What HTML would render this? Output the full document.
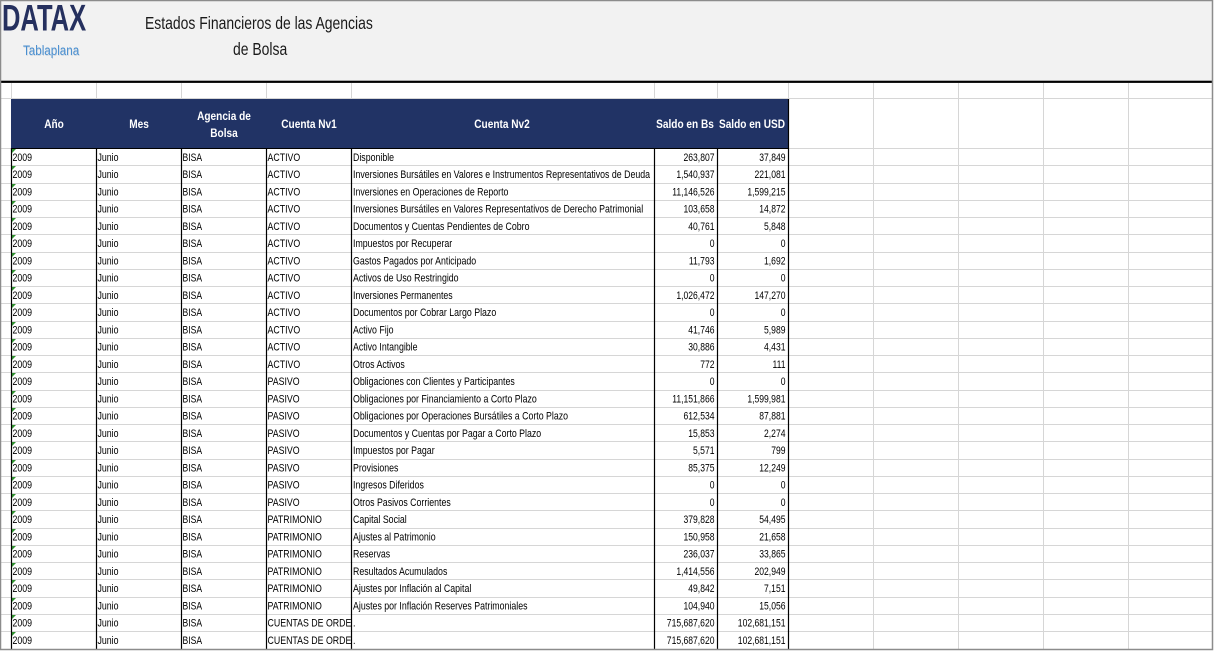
<!DOCTYPE html>
<html>
<head>
<meta charset="utf-8">
<style>
html,body{margin:0;padding:0;background:#fff;}
svg{display:block;}
text{font-family:"Liberation Sans",Arial,sans-serif;}
.d{font-size:11px;fill:#000;}
.h{font-size:12px;font-weight:bold;fill:#fff;}
</style>
</head>
<body>
<svg width="1214" height="651" viewBox="0 0 1214 651" xmlns="http://www.w3.org/2000/svg">
<defs>
<clipPath id="c1"><rect x="267" y="140" width="84" height="520"/></clipPath>
</defs>
<rect x="0" y="0" width="1214" height="651" fill="#fff"/>
<!-- header band -->
<rect x="0" y="0" width="1213" height="81" fill="#f2f2f2"/>
<rect x="0" y="80.7" width="1213" height="2.2" fill="#000"/>

<!-- logo -->
<g transform="translate(2,30.5) scale(0.69,1)"><text x="0" y="0" style="font-size:37px;font-weight:bold;fill:#25305e;">DATAX</text></g>
<g transform="translate(23,55) scale(0.83,1)"><text x="0.6" y="0.8" style="font-size:14px;fill:#b8c8d8;opacity:0.6">Tablaplana</text><text x="0" y="0" style="font-size:14px;fill:#4a8fd0;">Tablaplana</text></g>
<!-- title -->
<g transform="translate(145,29) scale(0.775,1)"><text x="0" y="0" style="font-size:18px;fill:#1a1a1a;">Estados Financieros de las Agencias</text></g>
<g transform="translate(233,55) scale(0.775,1)"><text x="0" y="0" style="font-size:18px;fill:#1a1a1a;">de Bolsa</text></g>

<!-- gridlines horizontal -->
<g stroke="#d6d6d6" stroke-width="1">
<line x1="0" y1="98.5" x2="1212" y2="98.5"/>
<line x1="0" y1="148.5" x2="1212" y2="148.5"/>
<line x1="0" y1="165.5" x2="1212" y2="165.5"/>
<line x1="0" y1="183.5" x2="1212" y2="183.5"/>
<line x1="0" y1="200.5" x2="1212" y2="200.5"/>
<line x1="0" y1="217.5" x2="1212" y2="217.5"/>
<line x1="0" y1="234.5" x2="1212" y2="234.5"/>
<line x1="0" y1="252.5" x2="1212" y2="252.5"/>
<line x1="0" y1="269.5" x2="1212" y2="269.5"/>
<line x1="0" y1="286.5" x2="1212" y2="286.5"/>
<line x1="0" y1="303.5" x2="1212" y2="303.5"/>
<line x1="0" y1="321.5" x2="1212" y2="321.5"/>
<line x1="0" y1="338.5" x2="1212" y2="338.5"/>
<line x1="0" y1="355.5" x2="1212" y2="355.5"/>
<line x1="0" y1="372.5" x2="1212" y2="372.5"/>
<line x1="0" y1="390.5" x2="1212" y2="390.5"/>
<line x1="0" y1="407.5" x2="1212" y2="407.5"/>
<line x1="0" y1="424.5" x2="1212" y2="424.5"/>
<line x1="0" y1="441.5" x2="1212" y2="441.5"/>
<line x1="0" y1="459.5" x2="1212" y2="459.5"/>
<line x1="0" y1="476.5" x2="1212" y2="476.5"/>
<line x1="0" y1="493.5" x2="1212" y2="493.5"/>
<line x1="0" y1="510.5" x2="1212" y2="510.5"/>
<line x1="0" y1="528.5" x2="1212" y2="528.5"/>
<line x1="0" y1="545.5" x2="1212" y2="545.5"/>
<line x1="0" y1="562.5" x2="1212" y2="562.5"/>
<line x1="0" y1="579.5" x2="1212" y2="579.5"/>
<line x1="0" y1="597.5" x2="1212" y2="597.5"/>
<line x1="0" y1="614.5" x2="1212" y2="614.5"/>
<line x1="0" y1="631.5" x2="1212" y2="631.5"/>
</g>
<!-- gridlines vertical -->
<g stroke="#d6d6d6" stroke-width="1">
<line x1="11.5" y1="83" x2="11.5" y2="99"/>
<line x1="96.5" y1="83" x2="96.5" y2="99"/>
<line x1="181.5" y1="83" x2="181.5" y2="99"/>
<line x1="266.5" y1="83" x2="266.5" y2="99"/>
<line x1="351.5" y1="83" x2="351.5" y2="99"/>
<line x1="654.5" y1="83" x2="654.5" y2="99"/>
<line x1="717.5" y1="83" x2="717.5" y2="99"/>
<line x1="788.5" y1="83" x2="788.5" y2="99"/>
<line x1="873.5" y1="83" x2="873.5" y2="650"/>
<line x1="958.5" y1="83" x2="958.5" y2="650"/>
<line x1="1043.5" y1="83" x2="1043.5" y2="650"/>
<line x1="1128.5" y1="83" x2="1128.5" y2="650"/>
</g>

<!-- table header -->
<rect x="11" y="99" width="778" height="49.5" fill="#213365"/>
<line x1="11" y1="148.5" x2="789" y2="148.5" stroke="#000" stroke-width="1"/>
<g class="h">
<g transform="translate(54,128) scale(0.84,1)"><text x="0" y="0" text-anchor="middle" class="h">Año</text></g>
<g transform="translate(139,128) scale(0.84,1)"><text x="0" y="0" text-anchor="middle" class="h">Mes</text></g>
<g transform="translate(224,120) scale(0.84,1)"><text x="0" y="0" text-anchor="middle" class="h">Agencia de</text></g>
<g transform="translate(224,137) scale(0.84,1)"><text x="0" y="0" text-anchor="middle" class="h">Bolsa</text></g>
<g transform="translate(309,128) scale(0.84,1)"><text x="0" y="0" text-anchor="middle" class="h">Cuenta Nv1</text></g>
<g transform="translate(502,128) scale(0.84,1)"><text x="0" y="0" text-anchor="middle" class="h">Cuenta Nv2</text></g>
<g transform="translate(685,128) scale(0.84,1)"><text x="0" y="0" text-anchor="middle" class="h">Saldo en Bs</text></g>
<g transform="translate(752,128) scale(0.84,1)"><text x="0" y="0" text-anchor="middle" class="h">Saldo en USD</text></g>
</g>

<!-- table vertical borders -->
<g stroke="#000" stroke-width="1.2">
<line x1="11.5" y1="148" x2="11.5" y2="649"/>
<line x1="96.5" y1="148" x2="96.5" y2="649"/>
<line x1="181.5" y1="148" x2="181.5" y2="649"/>
<line x1="266.5" y1="148" x2="266.5" y2="649"/>
<line x1="351.5" y1="148" x2="351.5" y2="649"/>
<line x1="654.5" y1="148" x2="654.5" y2="649"/>
<line x1="717.5" y1="148" x2="717.5" y2="649"/>
<line x1="788.5" y1="99" x2="788.5" y2="649"/>
</g>

<!-- green triangles -->
<g fill="#2f8f2f">
<polygon points="12,149 16,149 12,153"/>
<polygon points="12,166 16,166 12,170"/>
<polygon points="12,184 16,184 12,188"/>
<polygon points="12,201 16,201 12,205"/>
<polygon points="12,218 16,218 12,222"/>
<polygon points="12,235 16,235 12,239"/>
<polygon points="12,253 16,253 12,257"/>
<polygon points="12,270 16,270 12,274"/>
<polygon points="12,287 16,287 12,291"/>
<polygon points="12,304 16,304 12,308"/>
<polygon points="12,322 16,322 12,326"/>
<polygon points="12,339 16,339 12,343"/>
<polygon points="12,356 16,356 12,360"/>
<polygon points="12,373 16,373 12,377"/>
<polygon points="12,391 16,391 12,395"/>
<polygon points="12,408 16,408 12,412"/>
<polygon points="12,425 16,425 12,429"/>
<polygon points="12,442 16,442 12,446"/>
<polygon points="12,460 16,460 12,464"/>
<polygon points="12,477 16,477 12,481"/>
<polygon points="12,494 16,494 12,498"/>
<polygon points="12,511 16,511 12,515"/>
<polygon points="12,529 16,529 12,533"/>
<polygon points="12,546 16,546 12,550"/>
<polygon points="12,563 16,563 12,567"/>
<polygon points="12,580 16,580 12,584"/>
<polygon points="12,598 16,598 12,602"/>
<polygon points="12,615 16,615 12,619"/>
<polygon points="12,632 16,632 12,636"/>
</g>

<!-- Año column -->
<g transform="translate(12.5,0) scale(0.8,1)" class="d">
<text y="160.8">2009</text><text y="178.05">2009</text><text y="195.3">2009</text><text y="212.55">2009</text><text y="229.8">2009</text><text y="247.05">2009</text><text y="264.3">2009</text><text y="281.55">2009</text><text y="298.8">2009</text><text y="316.05">2009</text><text y="333.3">2009</text><text y="350.55">2009</text><text y="367.8">2009</text><text y="385.05">2009</text><text y="402.3">2009</text><text y="419.55">2009</text><text y="436.8">2009</text><text y="454.05">2009</text><text y="471.3">2009</text><text y="488.55">2009</text><text y="505.8">2009</text><text y="523.05">2009</text><text y="540.3">2009</text><text y="557.55">2009</text><text y="574.8">2009</text><text y="592.05">2009</text><text y="609.3">2009</text><text y="626.55">2009</text><text y="643.8">2009</text>
</g>
<!-- Mes column -->
<g transform="translate(97.5,0) scale(0.8,1)" class="d">
<text y="160.8">Junio</text><text y="178.05">Junio</text><text y="195.3">Junio</text><text y="212.55">Junio</text><text y="229.8">Junio</text><text y="247.05">Junio</text><text y="264.3">Junio</text><text y="281.55">Junio</text><text y="298.8">Junio</text><text y="316.05">Junio</text><text y="333.3">Junio</text><text y="350.55">Junio</text><text y="367.8">Junio</text><text y="385.05">Junio</text><text y="402.3">Junio</text><text y="419.55">Junio</text><text y="436.8">Junio</text><text y="454.05">Junio</text><text y="471.3">Junio</text><text y="488.55">Junio</text><text y="505.8">Junio</text><text y="523.05">Junio</text><text y="540.3">Junio</text><text y="557.55">Junio</text><text y="574.8">Junio</text><text y="592.05">Junio</text><text y="609.3">Junio</text><text y="626.55">Junio</text><text y="643.8">Junio</text>
</g>
<!-- Agencia column -->
<g transform="translate(182.5,0) scale(0.78,1)" class="d">
<text y="160.8">BISA</text><text y="178.05">BISA</text><text y="195.3">BISA</text><text y="212.55">BISA</text><text y="229.8">BISA</text><text y="247.05">BISA</text><text y="264.3">BISA</text><text y="281.55">BISA</text><text y="298.8">BISA</text><text y="316.05">BISA</text><text y="333.3">BISA</text><text y="350.55">BISA</text><text y="367.8">BISA</text><text y="385.05">BISA</text><text y="402.3">BISA</text><text y="419.55">BISA</text><text y="436.8">BISA</text><text y="454.05">BISA</text><text y="471.3">BISA</text><text y="488.55">BISA</text><text y="505.8">BISA</text><text y="523.05">BISA</text><text y="540.3">BISA</text><text y="557.55">BISA</text><text y="574.8">BISA</text><text y="592.05">BISA</text><text y="609.3">BISA</text><text y="626.55">BISA</text><text y="643.8">BISA</text>
</g>
<!-- Cuenta Nv1 -->
<g clip-path="url(#c1)">
<g transform="translate(267.5,0) scale(0.8,1)" class="d">
<text y="160.8">ACTIVO</text><text y="178.05">ACTIVO</text><text y="195.3">ACTIVO</text><text y="212.55">ACTIVO</text><text y="229.8">ACTIVO</text><text y="247.05">ACTIVO</text><text y="264.3">ACTIVO</text><text y="281.55">ACTIVO</text><text y="298.8">ACTIVO</text><text y="316.05">ACTIVO</text><text y="333.3">ACTIVO</text><text y="350.55">ACTIVO</text><text y="367.8">ACTIVO</text>
<text y="385.05">PASIVO</text><text y="402.3">PASIVO</text><text y="419.55">PASIVO</text><text y="436.8">PASIVO</text><text y="454.05">PASIVO</text><text y="471.3">PASIVO</text><text y="488.55">PASIVO</text><text y="505.8">PASIVO</text>
<text y="523.05">PATRIMONIO</text><text y="540.3">PATRIMONIO</text><text y="557.55">PATRIMONIO</text><text y="574.8">PATRIMONIO</text><text y="592.05">PATRIMONIO</text><text y="609.3">PATRIMONIO</text>
<text y="626.55">CUENTAS DE ORDEN</text><text y="643.8">CUENTAS DE ORDEN</text>
</g>
</g>
<!-- Cuenta Nv2 -->
<g transform="translate(353,0) scale(0.8,1)" class="d">
<text y="160.8">Disponible</text>
<text y="178.05">Inversiones Bursátiles en Valores e Instrumentos Representativos de Deuda</text>
<text y="195.3">Inversiones en Operaciones de Reporto</text>
<text y="212.55">Inversiones Bursátiles en Valores Representativos de Derecho Patrimonial</text>
<text y="229.8">Documentos y Cuentas Pendientes de Cobro</text>
<text y="247.05">Impuestos por Recuperar</text>
<text y="264.3">Gastos Pagados por Anticipado</text>
<text y="281.55">Activos de Uso Restringido</text>
<text y="298.8">Inversiones Permanentes</text>
<text y="316.05">Documentos por Cobrar Largo Plazo</text>
<text y="333.3">Activo Fijo</text>
<text y="350.55">Activo Intangible</text>
<text y="367.8">Otros Activos</text>
<text y="385.05">Obligaciones con Clientes y Participantes</text>
<text y="402.3">Obligaciones por Financiamiento a Corto Plazo</text>
<text y="419.55">Obligaciones por Operaciones Bursátiles a Corto Plazo</text>
<text y="436.8">Documentos y Cuentas por Pagar a Corto Plazo</text>
<text y="454.05">Impuestos por Pagar</text>
<text y="471.3">Provisiones</text>
<text y="488.55">Ingresos Diferidos</text>
<text y="505.8">Otros Pasivos Corrientes</text>
<text y="523.05">Capital Social</text>
<text y="540.3">Ajustes al Patrimonio</text>
<text y="557.55">Reservas</text>
<text y="574.8">Resultados Acumulados</text>
<text y="592.05">Ajustes por Inflación al Capital</text>
<text y="609.3">Ajustes por Inflación Reserves Patrimoniales</text>
<text y="626.55">.</text>
<text y="643.8">.</text>
</g>
<!-- Saldo en Bs -->
<g transform="translate(714.5,0) scale(0.78,1)" class="d" text-anchor="end">
<text y="160.8">263,807</text><text y="178.05">1,540,937</text><text y="195.3">11,146,526</text><text y="212.55">103,658</text><text y="229.8">40,761</text><text y="247.05">0</text><text y="264.3">11,793</text><text y="281.55">0</text><text y="298.8">1,026,472</text><text y="316.05">0</text><text y="333.3">41,746</text><text y="350.55">30,886</text><text y="367.8">772</text><text y="385.05">0</text><text y="402.3">11,151,866</text><text y="419.55">612,534</text><text y="436.8">15,853</text><text y="454.05">5,571</text><text y="471.3">85,375</text><text y="488.55">0</text><text y="505.8">0</text><text y="523.05">379,828</text><text y="540.3">150,958</text><text y="557.55">236,037</text><text y="574.8">1,414,556</text><text y="592.05">49,842</text><text y="609.3">104,940</text><text y="626.55">715,687,620</text><text y="643.8">715,687,620</text>
</g>
<!-- Saldo en USD -->
<g transform="translate(785.5,0) scale(0.78,1)" class="d" text-anchor="end">
<text y="160.8">37,849</text><text y="178.05">221,081</text><text y="195.3">1,599,215</text><text y="212.55">14,872</text><text y="229.8">5,848</text><text y="247.05">0</text><text y="264.3">1,692</text><text y="281.55">0</text><text y="298.8">147,270</text><text y="316.05">0</text><text y="333.3">5,989</text><text y="350.55">4,431</text><text y="367.8">111</text><text y="385.05">0</text><text y="402.3">1,599,981</text><text y="419.55">87,881</text><text y="436.8">2,274</text><text y="454.05">799</text><text y="471.3">12,249</text><text y="488.55">0</text><text y="505.8">0</text><text y="523.05">54,495</text><text y="540.3">21,658</text><text y="557.55">33,865</text><text y="574.8">202,949</text><text y="592.05">7,151</text><text y="609.3">15,056</text><text y="626.55">102,681,151</text><text y="643.8">102,681,151</text>
</g>

<!-- outer frame -->
<rect x="0.5" y="0.5" width="1212" height="649" fill="none" stroke="#8c8c8c" stroke-width="1.5"/>
</svg>
</body>
</html>
